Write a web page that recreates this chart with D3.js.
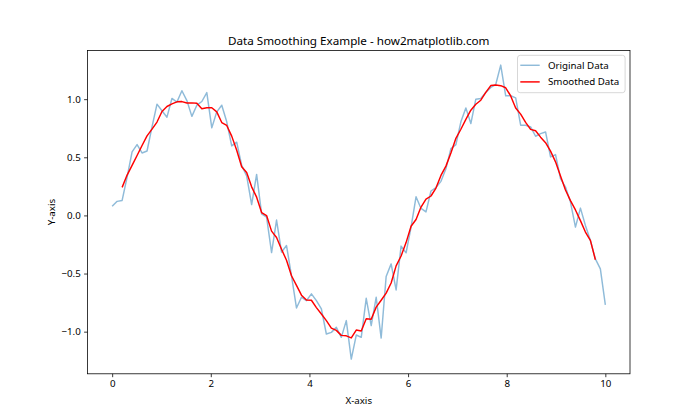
<!DOCTYPE html>
<html>
<head>
<meta charset="utf-8">
<script src="https://cdn.jsdelivr.net/npm/d3@7"></script>
<style>
  html, body { margin: 0; padding: 0; background: #fff; }
  svg { display: block; font-family: "Noto Sans", "DejaVu Sans", sans-serif; }
</style>
</head>
<body>
<svg id="chart" width="700" height="420"></svg>
<script>
// ---- data ----
const xStart = 0, xEnd = 10, nPoints = 100;
const originalY = [
  0.078, 0.121, 0.129, 0.33, 0.546, 0.609, 0.537, 0.554, 0.761, 0.957,
  0.90, 0.845, 1.006, 0.975, 1.072, 0.988, 0.852, 0.948, 0.980, 1.057,
  0.753, 0.891, 0.948, 0.805, 0.598, 0.630, 0.43, 0.34, 0.093, 0.353,
  0.014, -0.014, -0.32, -0.04, -0.316, -0.259, -0.52, -0.796, -0.704, -0.733,
  -0.675, -0.733, -0.805, -1.020, -1.006, -0.963, -1.049, -0.905, -1.236, -1.029,
  -1.049, -0.713, -0.948, -0.704, -1.055, -0.526, -0.417, -0.641, -0.264, -0.322,
  -0.101, 0.16, 0.06, 0.03, 0.21, 0.24, 0.293, 0.402, 0.575, 0.609,
  0.805, 0.925, 0.790, 1.0, 1.006, 1.057, 1.101, 1.126, 1.293, 1.029,
  1.029, 1.011, 0.776, 0.776, 0.761, 0.681, 0.704, 0.718, 0.503, 0.523,
  0.316, 0.244, 0.115, -0.101, 0.063, -0.086, -0.216, -0.374, -0.460, -0.770
];
// smoothed series (starts at the 3rd sample, ends at the 98th)
const smoothStartIndex = 2;
const smoothedY = [
  0.241, 0.347, 0.430, 0.515, 0.601, 0.684, 0.742, 0.803, 0.894, 0.937,
  0.960, 0.977, 0.979, 0.967, 0.968, 0.965, 0.918, 0.926, 0.926, 0.891,
  0.799, 0.774, 0.682, 0.561, 0.418, 0.369, 0.246, 0.157, 0.025, -0.001,
  -0.135, -0.190, -0.291, -0.386, -0.519, -0.602, -0.686, -0.728, -0.730, -0.793,
  -0.848, -0.905, -0.969, -0.989, -1.032, -1.036, -1.054, -0.986, -0.995, -0.889,
  -0.894, -0.789, -0.730, -0.669, -0.581, -0.434, -0.349, -0.234, -0.093, -0.035,
  0.072, 0.140, 0.167, 0.235, 0.344, 0.424, 0.537, 0.663, 0.741, 0.826,
  0.905, 0.956, 0.991, 1.058, 1.117, 1.121, 1.116, 1.098, 1.028, 0.924,
  0.871, 0.801, 0.740, 0.728, 0.673, 0.626, 0.553, 0.461, 0.340, 0.219,
  0.127, 0.047, -0.045, -0.143, -0.215, -0.381
];
const xTicks = [0, 2, 4, 6, 8, 10];
const yTicks = [-1.0, -0.5, 0.0, 0.5, 1.0];
const seriesNames = ["Original Data", "Smoothed Data"];
const titleText = "Data Smoothing Example - how2matplotlib.com";
const xLabelText = "X-axis";
const yLabelText = "Y-axis";

// ---- layout ----
const W = 700, H = 420;
const mLeft = 87.5, mRight = 630, mTop = 50.4, mBottom = 373.8;

const xs = d3.range(nPoints).map(i => xStart + i * (xEnd - xStart) / (nPoints - 1));
const orig = xs.map((xv, i) => [xv, originalY[i]]);
const smooth = smoothedY.map((v, k) => [xs[k + smoothStartIndex], v]);

const xmin = d3.min(xs), xmax = d3.max(xs);
const xpad = (xmax - xmin) * 0.05;
const ymin = d3.min(originalY), ymax = d3.max(originalY);
const ypad = (ymax - ymin) * 0.05;

const x = d3.scaleLinear().domain([xmin - xpad, xmax + xpad]).range([mLeft, mRight]);
const y = d3.scaleLinear().domain([ymin - ypad, ymax + ypad]).range([mBottom, mTop]);

const svg = d3.select("#chart");
svg.append("rect").attr("width", W).attr("height", H).attr("fill", "#fff");

const line = d3.line().x(d => x(d[0])).y(d => y(d[1]));

svg.append("clipPath").attr("id", "clip")
  .append("rect").attr("x", mLeft).attr("y", mTop).attr("width", mRight - mLeft).attr("height", mBottom - mTop);

const plot = svg.append("g").attr("clip-path", "url(#clip)");
plot.append("path").datum(orig)
  .attr("d", line).attr("fill", "none")
  .attr("stroke", "#1f77b4").attr("stroke-opacity", 0.5)
  .attr("stroke-width", 1.46).attr("stroke-linejoin", "round").attr("stroke-linecap", "butt");
plot.append("path").datum(smooth)
  .attr("d", line).attr("fill", "none")
  .attr("stroke", "red")
  .attr("stroke-width", 1.46).attr("stroke-linejoin", "round").attr("stroke-linecap", "butt");

// axes
const tickFont = 9.72;
const xAxis = d3.axisBottom(x).tickValues(xTicks).tickSize(3.4).tickPadding(3.4).tickFormat(d3.format("d"));
const yAxis = d3.axisLeft(y).tickValues(yTicks).tickSize(3.4).tickPadding(3.4).tickFormat(d3.format(".1f"));

const gx = svg.append("g").attr("transform", `translate(0,${mBottom})`).call(xAxis);
const gy = svg.append("g").attr("transform", `translate(${mLeft},0)`).call(yAxis);
[gx, gy].forEach(g => {
  g.select(".domain").remove();
  g.selectAll(".tick line").attr("stroke", "#000").attr("stroke-width", 0.78);
  g.selectAll(".tick text").attr("fill", "#000").style("font-size", tickFont + "px")
    .style("font-family", '"Noto Sans", "DejaVu Sans", sans-serif');
});
gy.selectAll(".tick text").text(d => d < 0 ? "\u2212" + Math.abs(d).toFixed(1) : d.toFixed(1));

// frame
svg.append("rect").attr("x", mLeft).attr("y", mTop).attr("width", mRight - mLeft).attr("height", mBottom - mTop)
  .attr("fill", "none").attr("stroke", "#000").attr("stroke-width", 0.78);

// title & labels
svg.append("text").attr("x", (mLeft + mRight) / 2).attr("y", 44.6)
  .attr("text-anchor", "middle").style("font-size", "11.67px").attr("fill", "#000").text(titleText);
svg.append("text").attr("x", (mLeft + mRight) / 2).attr("y", 404)
  .attr("text-anchor", "middle").style("font-size", tickFont + "px").attr("fill", "#000").text(xLabelText);
svg.append("text").attr("transform", `translate(55,${(mTop + mBottom) / 2}) rotate(-90)`)
  .attr("text-anchor", "middle").style("font-size", tickFont + "px").attr("fill", "#000").text(yLabelText);

// legend
const lg = svg.append("g");
lg.append("rect").attr("x", 517.5).attr("y", 55.3).attr("width", 107.6).attr("height", 37.4)
  .attr("rx", 2.7).attr("fill", "#fff").attr("fill-opacity", 0.8)
  .attr("stroke", "#cccccc").attr("stroke-width", 0.78);
const legendItems = [
  { name: seriesNames[0], color: "#1f77b4", op: 0.5 },
  { name: seriesNames[1], color: "red", op: 1 }
];
legendItems.forEach((it, i) => {
  const yy = 65.3 + i * 16.6;
  lg.append("line").attr("x1", 520.3).attr("x2", 539.7).attr("y1", yy).attr("y2", yy)
    .attr("stroke", it.color).attr("stroke-opacity", it.op).attr("stroke-width", 1.46);
  lg.append("text").attr("x", 548).attr("y", yy).attr("dy", "0.35em")
    .style("font-size", tickFont + "px").attr("fill", "#000").text(it.name);
});
</script>
</body>
</html>
